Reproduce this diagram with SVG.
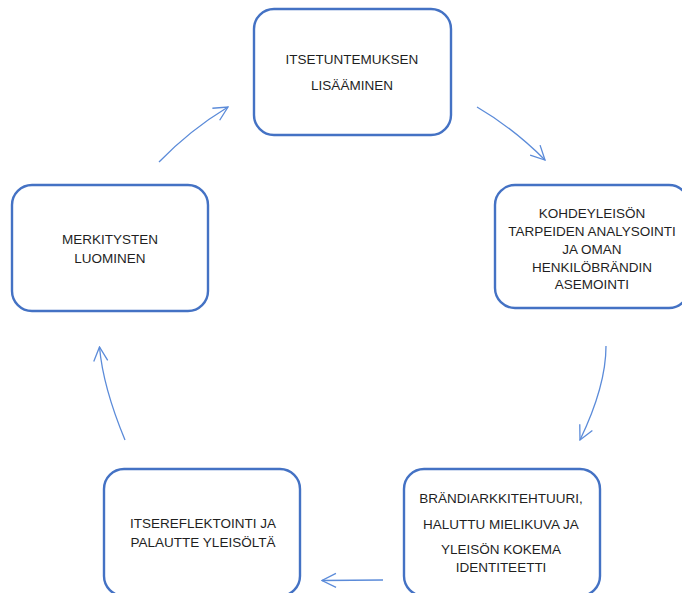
<svg xmlns="http://www.w3.org/2000/svg" width="682" height="593" viewBox="0 0 682 593">
<style>
.box{fill:#fff;stroke:#4472C4;stroke-width:2.4}
.t{font-family:"Liberation Sans",Arial,sans-serif;font-size:13.5px;fill:#1f1f1f;text-anchor:middle}
.c{fill:none;stroke:#5B8BD9;stroke-width:1.3;marker-end:url(#ah)}
</style>
<defs>
<marker id="ah" viewBox="0 0 16 16" refX="15" refY="8" markerWidth="16" markerHeight="16" markerUnits="userSpaceOnUse" orient="auto">
<path d="M1,1 L15,8 L1,15" fill="none" stroke="#5B8BD9" stroke-width="1.3"/>
</marker>
</defs>
<rect width="682" height="593" fill="#fff"/>
<g id="connectors">
<path class="c" d="M159,162 Q190,130 228,107"/>
<path class="c" d="M477,107 Q513,128 545,160"/>
<path class="c" d="M606,346 Q606,386 580,440"/>
<path class="c" d="M383,580 L322,580.5"/>
<path class="c" d="M125,440 Q103,387 99.5,347"/>
</g>
<g id="n1">
<rect class="box" x="254" y="9" width="197" height="126" rx="20"/>
<text class="t" x="352" y="64">ITSETUNTEMUKSEN</text>
<text class="t" x="352" y="90">LISÄÄMINEN</text>
</g>
<g id="n2">
<rect class="box" x="495" y="185" width="194" height="123" rx="20"/>
<text class="t" x="592" y="218">KOHDEYLEISÖN</text>
<text class="t" x="592" y="236">TARPEIDEN ANALYSOINTI</text>
<text class="t" x="592" y="254">JA OMAN</text>
<text class="t" x="592" y="272">HENKILÖBRÄNDIN</text>
<text class="t" x="592" y="289">ASEMOINTI</text>
</g>
<g id="n3">
<rect class="box" x="404" y="469" width="196" height="127" rx="20"/>
<text class="t" x="501" y="503">BRÄNDIARKKITEHTUURI,</text>
<text class="t" x="501" y="529">HALUTTU MIELIKUVA JA</text>
<text class="t" x="501" y="554">YLEISÖN KOKEMA</text>
<text class="t" x="501" y="572">IDENTITEETTI</text>
</g>
<g id="n4">
<rect class="box" x="104" y="469" width="196" height="127" rx="20"/>
<text class="t" x="203" y="528">ITSEREFLEKTOINTI JA</text>
<text class="t" x="203" y="547">PALAUTTE YLEISÖLTÄ</text>
</g>
<g id="n5">
<rect class="box" x="12" y="185" width="196" height="126" rx="20"/>
<text class="t" x="110" y="244">MERKITYSTEN</text>
<text class="t" x="110" y="263">LUOMINEN</text>
</g>
</svg>
